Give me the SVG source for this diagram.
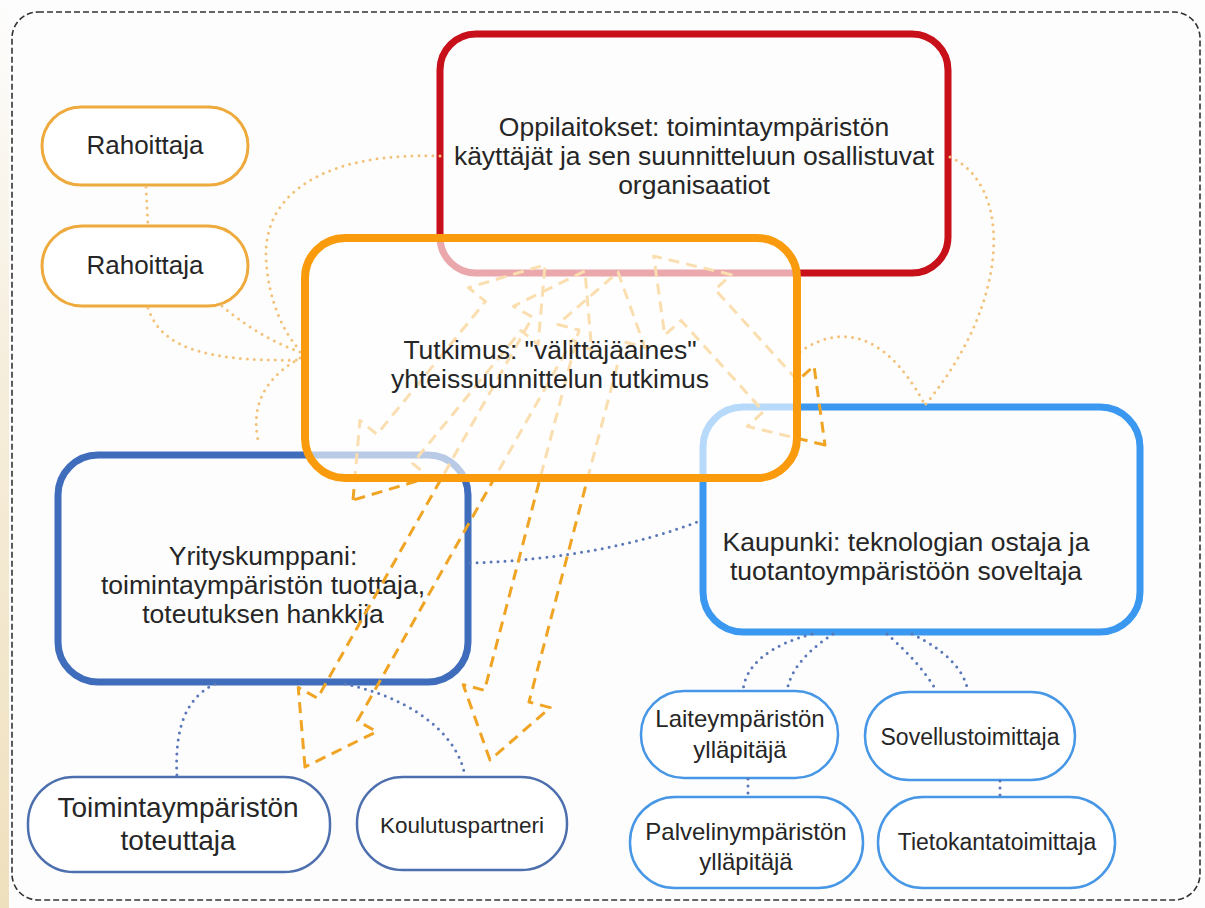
<svg xmlns="http://www.w3.org/2000/svg" width="1205" height="908" viewBox="0 0 1205 908">
<defs>
<linearGradient id="edge" x1="0" y1="0" x2="0" y2="1">
<stop offset="0" stop-color="#fdfdfd"/>
<stop offset="0.4" stop-color="#f6eedd"/>
<stop offset="1" stop-color="#efe0bd"/>
</linearGradient>
<style>
.t{font-family:"Liberation Sans",Arial,sans-serif;fill:#262626;text-anchor:middle}
.big{font-size:26.5px}
.sm{font-size:23px}
.arr{fill:none;stroke:#f0a424;stroke-width:3;stroke-dasharray:11 7;stroke-linejoin:round}
.dotO{fill:none;stroke:#f3c27a;stroke-width:3;stroke-dasharray:0 7;stroke-linecap:round}
.dotB{fill:none;stroke:#5a78b8;stroke-width:3;stroke-dasharray:0 7;stroke-linecap:round}
.pillO{fill:#fff;stroke:#eeaa3c;stroke-width:3}
.pillD{fill:#fff;stroke:#4d6fae;stroke-width:2.5}
.pillL{fill:#fff;stroke:#4797e6;stroke-width:2.5}
</style>
</defs>
<rect x="0" y="0" width="1205" height="908" fill="#fdfdfd"/>
<rect x="0" y="0" width="9" height="908" fill="url(#edge)"/>
<rect x="12" y="12" width="1188" height="888" rx="26" fill="none" stroke="#333" stroke-width="1.6" stroke-dasharray="6 3"/>

<g id="rahoittaja1"><rect class="pillO" x="42" y="107" width="206" height="78" rx="39"/><text class="t" style="font-size:26px" x="145" y="154">Rahoittaja</text></g>
<g id="rahoittaja2"><rect class="pillO" x="42" y="226" width="206" height="80" rx="40"/><text class="t" style="font-size:26px" x="145" y="274">Rahoittaja</text></g>

<g id="oppilaitokset"><rect x="440" y="34" width="508" height="239" rx="36" fill="none" stroke="#c8101a" stroke-width="7"/>
<text class="t big" x="694" y="136">Oppilaitokset: toimintaympäristön</text>
<text class="t big" x="694" y="165">käyttäjät ja sen suunnitteluun osallistuvat</text>
<text class="t big" x="694" y="194">organisaatiot</text></g>

<g id="yrityskumppani"><rect x="58" y="455" width="410" height="227" rx="40" fill="none" stroke="#3f6dbb" stroke-width="7"/>
<text class="t big" x="263" y="565">Yrityskumppani:</text>
<text class="t big" x="263" y="594">toimintaympäristön tuottaja,</text>
<text class="t big" x="263" y="623">toteutuksen hankkija</text></g>

<g id="kaupunki"><rect x="703" y="407" width="437" height="225" rx="40" fill="none" stroke="#3a98f0" stroke-width="7"/>
<text class="t big" x="906" y="551">Kaupunki: teknologian ostaja ja</text>
<text class="t big" x="906" y="580">tuotantoympäristöön soveltaja</text></g>

<g id="toimintaymparisto"><rect class="pillD" x="28" y="777" width="302" height="95" rx="46"/><text class="t" style="font-size:28px" x="178" y="817">Toimintaympäristön</text><text class="t" style="font-size:28px" x="178" y="850">toteuttaja</text></g>
<g id="koulutuspartneri"><rect class="pillD" x="357" y="777" width="210" height="93" rx="46"/><text class="t" style="font-size:22.5px" x="462" y="833">Koulutuspartneri</text></g>
<g id="laiteymparisto"><rect class="pillL" x="641" y="691" width="197" height="87" rx="43"/><text class="t" style="font-size:24px" x="740" y="727">Laiteympäristön</text><text class="t" style="font-size:24px" x="740" y="758">ylläpitäjä</text></g>
<g id="sovellustoimittaja"><rect class="pillL" x="865" y="692" width="210" height="88" rx="44"/><text class="t sm" x="970" y="745">Sovellustoimittaja</text></g>
<g id="palvelinymparisto"><rect class="pillL" x="630" y="797" width="233" height="91" rx="45"/><text class="t" style="font-size:24px" x="746" y="840">Palvelinympäristön</text><text class="t" style="font-size:24px" x="746" y="870">ylläpitäjä</text></g>
<g id="tietokantatoimittaja"><rect class="pillL" x="878" y="797" width="237" height="91" rx="45"/><text class="t sm" x="997" y="850">Tietokantatoimittaja</text></g>

<g id="connectors">
<path class="dotO" d="M146,187 L148,226"/>
<path class="dotO" d="M440,156 C330,152 265,190 266,255 C267,300 285,335 300,350"/>
<path class="dotO" d="M148,308 C160,345 200,362 298,360"/>
<path class="dotO" d="M222,306 C250,330 280,345 300,352"/>
<path class="dotO" d="M300,358 C270,375 250,400 258,440"/>
<path class="dotO" d="M950,157 C1012,185 1012,300 925,405"/>
<path class="dotO" d="M800,352 C830,330 880,320 925,405"/>
<path class="dotB" d="M470,563 C560,560 640,545 702,520"/>
<path class="dotB" d="M215,684 C180,700 175,740 177,777"/>
<path class="dotB" d="M345,684 C420,700 460,740 465,777"/>
<path class="dotB" d="M812,634 C770,645 745,665 743,691"/>
<path class="dotB" d="M833,634 C808,650 790,670 787,691"/>
<path class="dotB" d="M887,634 C905,650 925,670 937,692"/>
<path class="dotB" d="M912,634 C945,650 965,670 968,692"/>
<path class="dotB" d="M748,779 L748,797"/>
<path class="dotB" d="M1000,781 L1000,797"/>
<polygon class="arr" transform="translate(305,767) rotate(-60.56)" points="0,0 66,-45 66,-23 503.6,-23 503.6,-45 569.6,0 503.6,45 503.6,23 66,23 66,45"/>
<polygon class="arr" transform="translate(490,760) rotate(-75.3)" points="0,0 66,-45 66,-23 438.5,-23 438.5,-45 504.5,0 438.5,45 438.5,23 66,23 66,45"/>
<polygon class="arr" transform="translate(353,500) rotate(-50.75)" points="0,0 66,-45 66,-23 237.5,-23 237.5,-45 303.5,0 237.5,45 237.5,23 66,23 66,45"/>
<polygon class="arr" transform="translate(825,445) rotate(-132.2)" points="0,0 66,-45 66,-23 189,-23 189,-45 255,0 189,45 189,23 66,23 66,45"/>
</g>

<g id="tutkimus"><rect x="305" y="238" width="492" height="240" rx="40" fill="#fff" fill-opacity="0.64" stroke="#f99b0c" stroke-width="8"/>
<text class="t big" x="550" y="359">Tutkimus: "välittäjäaines"</text>
<text class="t big" x="550" y="388">yhteissuunnittelun tutkimus</text></g>
</svg>
